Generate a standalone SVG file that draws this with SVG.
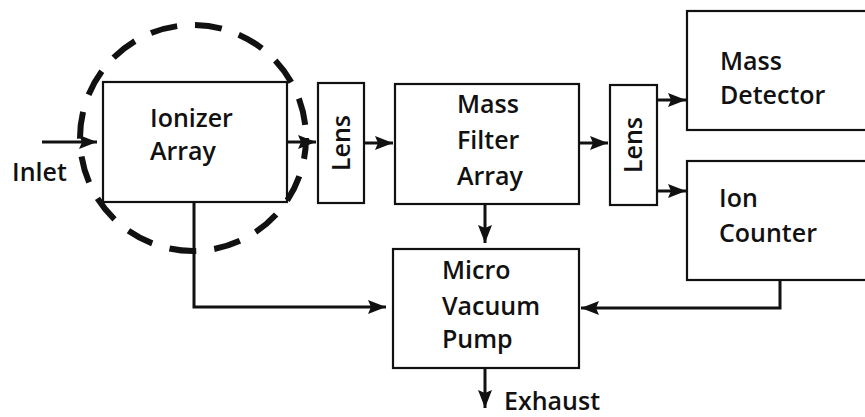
<svg xmlns="http://www.w3.org/2000/svg" width="865" height="417" viewBox="0 0 865 417">
<defs>
<style>
.box{fill:#fff;stroke:#111;stroke-width:2.2}
.t{font-family:"Open Sans","Liberation Sans",sans-serif;font-size:25px;font-weight:600;fill:#111}
.ln{fill:none;stroke:#111;stroke-width:3}
</style>
<marker id="ah" markerUnits="userSpaceOnUse" markerWidth="20" markerHeight="18" viewBox="0 0 20 18" refX="18" refY="9" orient="auto">
<path d="M0,2 L18,9 L0,16 L3,9 Z" fill="#111"/>
</marker>
</defs>
<rect width="865" height="417" fill="#fff"/>

<g id="ionizer">
<rect class="box" x="103" y="82" width="184" height="120"/>
<text class="t" x="150" y="127">Ionizer</text>
<text class="t" x="150" y="160">Array</text>
</g>
<g id="lens1">
<rect class="box" x="318" y="83" width="46" height="120"/>
<text class="t" transform="translate(350,143) rotate(-90)" text-anchor="middle">Lens</text>
</g>
<g id="massfilter">
<rect class="box" x="395" y="84" width="184" height="120"/>
<text class="t" x="457" y="113">Mass</text>
<text class="t" x="457" y="149">Filter</text>
<text class="t" x="457" y="185">Array</text>
</g>
<g id="lens2">
<rect class="box" x="610" y="85" width="47" height="120"/>
<text class="t" transform="translate(642,145) rotate(-90)" text-anchor="middle">Lens</text>
</g>
<g id="massdetector">
<rect class="box" x="687" y="11" width="190" height="119"/>
<text class="t" x="720" y="70">Mass</text>
<text class="t" x="720" y="104">Detector</text>
</g>
<g id="ioncounter">
<rect class="box" x="687" y="161" width="190" height="119"/>
<text class="t" x="719" y="207">Ion</text>
<text class="t" x="719" y="242">Counter</text>
</g>
<g id="pump">
<rect class="box" x="393" y="249" width="186" height="119"/>
<text class="t" x="442" y="279">Micro</text>
<text class="t" x="442" y="315">Vacuum</text>
<text class="t" x="442" y="348">Pump</text>
</g>
<g id="inlet">
<text class="t" x="12" y="181">Inlet</text>
</g>
<g id="exhaust">
<text class="t" x="504" y="410">Exhaust</text>
</g>
<g id="boundary">
<circle cx="193" cy="138" r="113" fill="none" stroke="#111" stroke-width="6" stroke-dasharray="27 18" stroke-dashoffset="6"/>
</g>
<g id="connectors">
<line class="ln" x1="42" y1="142" x2="97" y2="142" marker-end="url(#ah)"/>
<line class="ln" x1="287" y1="142" x2="316" y2="142" marker-end="url(#ah)"/>
<line class="ln" x1="364" y1="143" x2="393" y2="143" marker-end="url(#ah)"/>
<line class="ln" x1="579" y1="143" x2="608" y2="143" marker-end="url(#ah)"/>
<line class="ln" x1="657" y1="100" x2="686" y2="100" marker-end="url(#ah)"/>
<line class="ln" x1="657" y1="191" x2="686" y2="191" marker-end="url(#ah)"/>
<line class="ln" x1="485" y1="204" x2="485" y2="243" marker-end="url(#ah)"/>
<polyline class="ln" points="194,202 194,307 386,307" marker-end="url(#ah)"/>
<polyline class="ln" points="780,280 780,308 581,308" marker-end="url(#ah)"/>
<line class="ln" x1="485" y1="368" x2="485" y2="408" marker-end="url(#ah)"/>
</g>
</svg>
